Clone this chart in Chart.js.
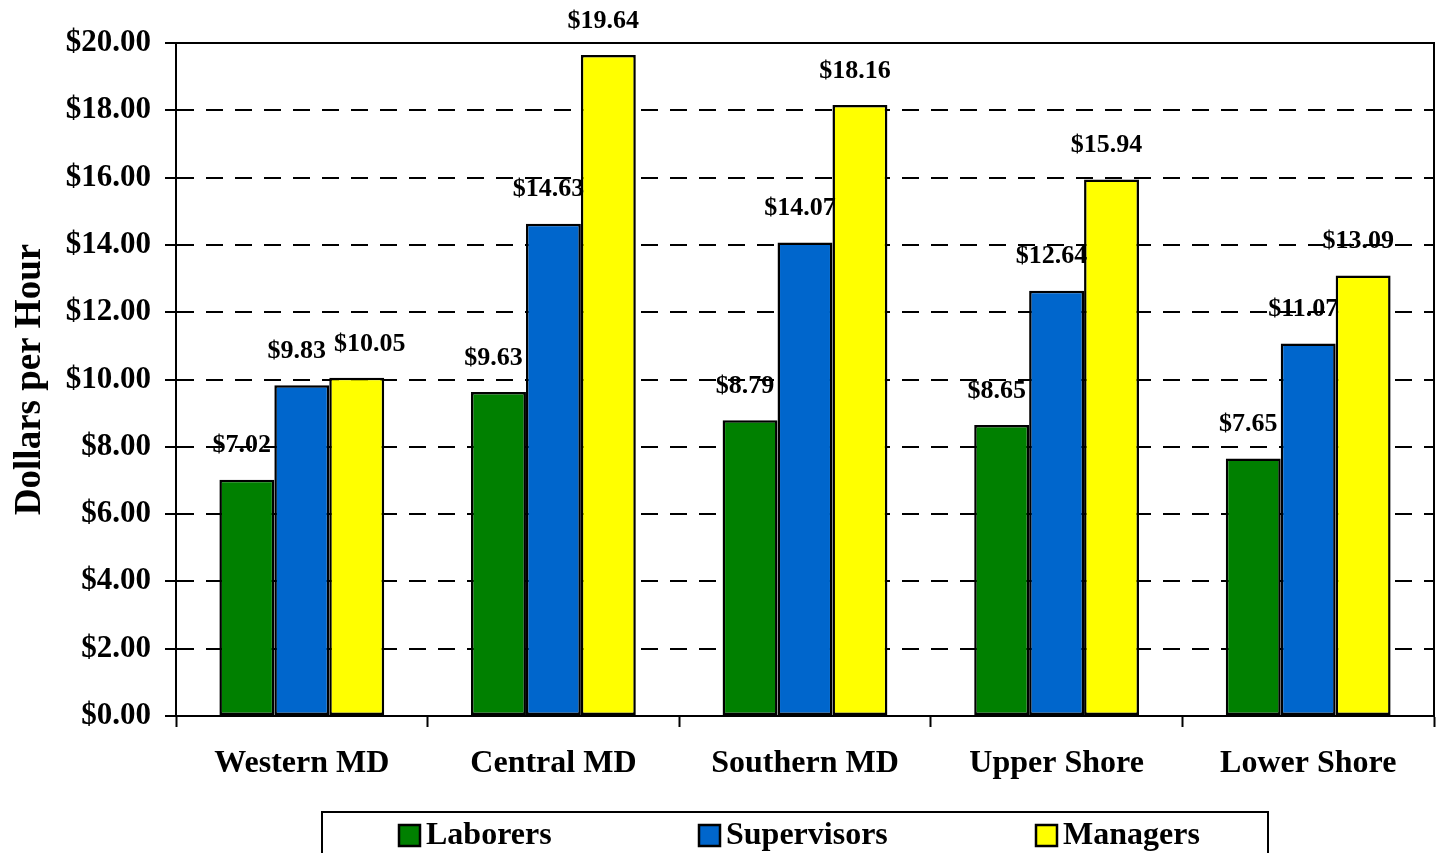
<!DOCTYPE html>
<html>
<head>
<meta charset="utf-8">
<script src="https://cdn.jsdelivr.net/npm/chart.js@4.4.0/dist/chart.umd.min.js"></script>
<style>
  html, body { margin: 0; padding: 0; background: #fff; }
  #wrap { width: 1441px; height: 853px; position: relative; }
</style>
</head>
<body>
<div id="wrap"><canvas id="c"></canvas></div>
<script>
const categories = ['Western MD', 'Central MD', 'Southern MD', 'Upper Shore', 'Lower Shore'];
const laborers = [7.02, 9.63, 8.79, 8.65, 7.65];
const supervisors = [9.83, 14.63, 14.07, 12.64, 11.07];
const managers = [10.05, 19.64, 18.16, 15.94, 13.09];
const seriesNames = ['Laborers', 'Supervisors', 'Managers'];
const yTitle = 'Dollars per Hour';

const FONT = '"Liberation Serif", "Times New Roman", serif';
const fmt = v => '$' + v.toFixed(2);

const labelPlugin = {
  id: 'valueLabels',
  afterDatasetsDraw(chart) {
    const ctx = chart.ctx;
    ctx.save();
    ctx.font = 'bold 26px ' + FONT;
    ctx.fillStyle = '#000';
    ctx.textAlign = 'center';
    ctx.textBaseline = 'middle';
    const n = chart.data.labels.length;
    for (let i = 0; i < n; i++) {
      let prev = null;
      chart.data.datasets.forEach((ds, di) => {
        const el = chart.getDatasetMeta(di).data[i];
        const txt = fmt(ds.data[i]);
        const w = ctx.measureText(txt).width;
        let cx = el.x - 5;
        const cy = el.y - 34;
        if (prev && Math.abs(prev.y - cy) < 24 && cx - w / 2 < prev.right + 8) {
          cx = prev.right + 8 + w / 2;
        }
        ctx.fillText(txt, cx, cy);
        prev = { right: cx + w / 2, y: cy };
      });
    }
    ctx.restore();
  }
};

const framePlugin = {
  id: 'frame',
  afterDraw(chart) {
    const a = chart.chartArea;
    const ctx = chart.ctx;
    ctx.save();
    ctx.strokeStyle = '#000';
    ctx.lineWidth = 2;
    ctx.beginPath();
    ctx.moveTo(a.left - 11, a.top);
    ctx.lineTo(a.right, a.top);
    ctx.lineTo(a.right, a.bottom);
    ctx.stroke();
    // legend
    const lx = 322, ly = 812, lw = 946, lh = 60;
    ctx.lineWidth = 2;
    ctx.strokeRect(lx, ly, lw, lh);
    const boxX = [399, 699, 1036];
    ctx.font = 'bold 32px ' + FONT;
    ctx.textBaseline = 'middle';
    ctx.textAlign = 'left';
    chart.data.datasets.forEach((ds, i) => {
      ctx.fillStyle = ds.backgroundColor;
      ctx.fillRect(boxX[i], 825, 21, 21);
      ctx.lineWidth = 2.5;
      ctx.strokeStyle = '#000';
      ctx.strokeRect(boxX[i], 825, 21, 21);
      ctx.fillStyle = '#000';
      ctx.fillText(ds.label, boxX[i] + 27, 836);
    });
    ctx.restore();
  }
};

const colors = ['#008000', '#0066CC', '#FFFF00'];
const seriesData = [laborers, supervisors, managers];

new Chart(document.getElementById('c'), {
  type: 'bar',
  data: {
    labels: categories,
    datasets: seriesNames.map((name, i) => ({
      label: name,
      data: seriesData[i],
      backgroundColor: colors[i],
      borderColor: '#000',
      borderWidth: 2.5,
      borderSkipped: false,
      categoryPercentage: 0.655,
      barPercentage: 1.0
    }))
  },
  options: {
    responsive: true,
    maintainAspectRatio: false,
    animation: false,
    devicePixelRatio: 1,
    layout: { padding: { left: 4, right: 7, top: 43, bottom: 37 } },
    plugins: {
      legend: { display: false },
      tooltip: { enabled: false }
    },
    scales: {
      x: {
        afterFit: s => { s.height = 100; },
        grid: {
          display: true,
          offset: true,
          drawOnChartArea: false,
          drawTicks: true,
          tickLength: 11,
          tickWidth: 2,
          tickColor: '#000'
        },
        border: { display: true, color: '#000', width: 2 },
        ticks: {
          color: '#000',
          font: { family: FONT, size: 32, weight: 'bold' },
          padding: 18,
          maxRotation: 0
        }
      },
      y: {
        min: 0,
        max: 20,
        afterFit: s => { s.width = 172; },
        grid: {
          color: ctx => (ctx.tick && ctx.tick.value === 0) ? 'rgba(0,0,0,0)' : '#000',
          lineWidth: 2,
          drawTicks: true,
          tickLength: 11,
          tickColor: '#000',
          tickWidth: 2,
          tickBorderDash: []
        },
        border: { display: true, color: '#000', width: 2, dash: [17, 12] },
        ticks: {
          stepSize: 2,
          color: '#000',
          font: { family: FONT, size: 31, weight: 'bold' },
          padding: 14,
          callback: v => fmt(v)
        },
        title: {
          display: true,
          text: yTitle,
          color: '#000',
          font: { family: FONT, size: 37, weight: 'bold' },
          padding: { top: 4, bottom: 0 }
        }
      }
    }
  },
  plugins: [labelPlugin, framePlugin]
});
</script>
</body>
</html>
